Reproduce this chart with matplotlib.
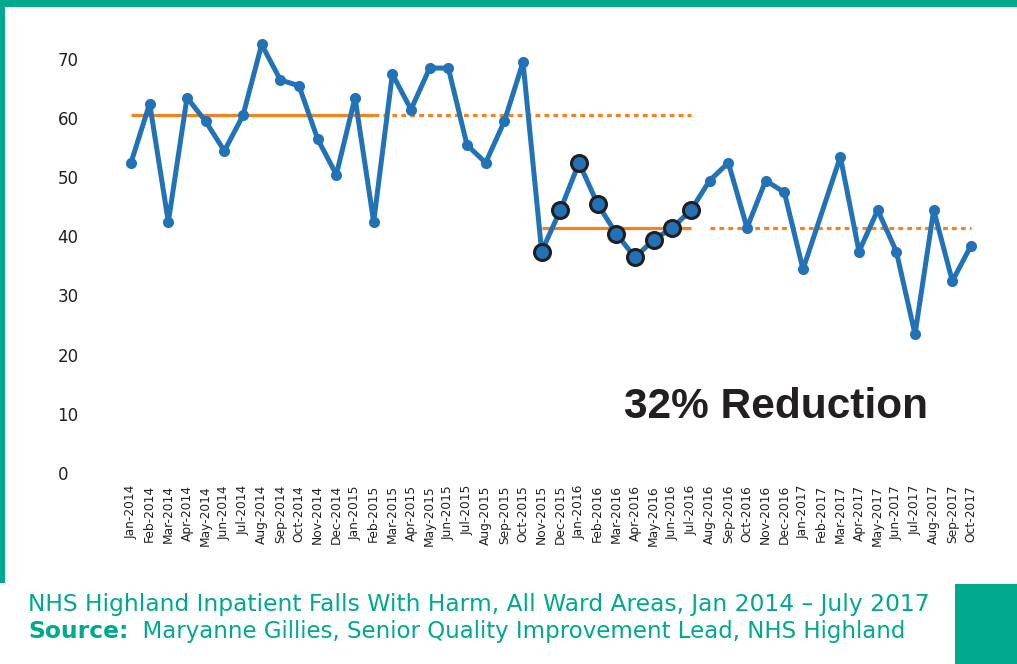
import matplotlib
matplotlib.use("Agg")
import matplotlib.pyplot as plt
from matplotlib.patches import Rectangle
from matplotlib.transforms import ScaledTranslation

# ---------------- data ----------------
months = [
    "Jan-2014", "Feb-2014", "Mar-2014", "Apr-2014", "May-2014", "Jun-2014",
    "Jul-2014", "Aug-2014", "Sep-2014", "Oct-2014", "Nov-2014", "Dec-2014",
    "Jan-2015", "Feb-2015", "Mar-2015", "Apr-2015", "May-2015", "Jun-2015",
    "Jul-2015", "Aug-2015", "Sep-2015", "Oct-2015", "Nov-2015", "Dec-2015",
    "Jan-2016", "Feb-2016", "Mar-2016", "Apr-2016", "May-2016", "Jun-2016",
    "Jul-2016", "Aug-2016", "Sep-2016", "Oct-2016", "Nov-2016", "Dec-2016",
    "Jan-2017", "Feb-2017", "Mar-2017", "Apr-2017", "May-2017", "Jun-2017",
    "Jul-2017", "Aug-2017", "Sep-2017", "Oct-2017",
]
falls = [
    52, 62, 42, 63, 59, 54, 60, 72, 66, 65, 56, 50,
    63, 42, 67, 61, 68, 68, 55, 52, 59, 69, 37, 44,
    52, 45, 40, 36, 39, 41, 44, 49, 52, 41, 49, 47,
    34, None, 53, 37, 44, 37, 23, 44, 32, 38,
]
highlight_months = ["Nov-2015", "Dec-2015", "Jan-2016", "Feb-2016", "Mar-2016",
                    "Apr-2016", "May-2016", "Jun-2016", "Jul-2016"]

baseline_1 = 60
baseline_1_solid = ("Jan-2014", "Feb-2015")
baseline_1_ext = ("Feb-2015", "Jul-2016")
baseline_2 = 41
baseline_2_solid = ("Nov-2015", "Jul-2016")
baseline_2_ext = ("Aug-2016", "Oct-2017")

y_ticks = [0, 10, 20, 30, 40, 50, 60, 70]
annotation = "32% Reduction"
caption_1 = "NHS Highland Inpatient Falls With Harm, All Ward Areas, Jan 2014 \u2013 July 2017"
caption_2_bold = "Source:"
caption_2 = "  Maryanne Gillies, Senior Quality Improvement Lead, NHS Highland"

# ---------------- style ----------------
BLUE = "#2272b8"
ORANGE = "#f5821f"
TEAL = "#00a98d"
TXT = "#231f20"

W, H = 1017, 664
fig = plt.figure(figsize=(W / 100, H / 100), dpi=100)
fig.patch.set_facecolor("white")

# frame decorations
fig.add_artist(Rectangle((0, 1 - 7 / H), 1, 7 / H, transform=fig.transFigure,
                         color=TEAL, lw=0, zorder=0))
fig.add_artist(Rectangle((0, 1 - 583 / H), 5 / W, 583 / H, transform=fig.transFigure,
                         color=TEAL, lw=0, zorder=0))
fig.add_artist(Rectangle((955 / W, 0), 1 - 955 / W, 80 / H, transform=fig.transFigure,
                         color=TEAL, lw=0, zorder=0))

# axes placed by pixels
x_left_px = 131 - 18.667
x_w_px = 47 * 18.667
y_bot_px = 470.5
px_per_unit = 5.918
ax = fig.add_axes([x_left_px / W, (H - y_bot_px) / H, x_w_px / W, 75 * px_per_unit / H])
ax.set_xlim(-1, 46)
ax.set_ylim(0, 75)
for s in ax.spines.values():
    s.set_visible(False)
ax.set_facecolor("none")

idx = {m: i for i, m in enumerate(months)}
xs = [i for i, v in enumerate(falls) if v is not None]
ys = [v for v in falls if v is not None]


def seg(rng):
    return [idx[rng[0]], idx[rng[1]]]


# baselines
ax.plot(seg(baseline_1_solid), [baseline_1] * 2, color=ORANGE, lw=2.3,
        solid_capstyle="butt", zorder=2)
ax.plot(seg(baseline_1_ext), [baseline_1] * 2, color=ORANGE, lw=2.3,
        linestyle=(0, (1.5, 1.3)), dash_capstyle="butt", zorder=2)
ax.plot(seg(baseline_2_solid), [baseline_2] * 2, color=ORANGE, lw=2.3,
        solid_capstyle="butt", zorder=2)
ax.plot(seg(baseline_2_ext), [baseline_2] * 2, color=ORANGE, lw=2.3,
        linestyle=(0, (1.5, 1.3)), dash_capstyle="butt", zorder=2)

# main series
ax.plot(xs, ys, color=BLUE, lw=3.6, marker="o", markersize=8,
        markeredgewidth=0, zorder=3, solid_joinstyle="round")
hx = [idx[m] for m in highlight_months]
hy = [falls[i] for i in hx]
ax.plot(hx, hy, linestyle="none", marker="o", markersize=11.5,
        markerfacecolor=BLUE, markeredgecolor=TXT, markeredgewidth=2.2, zorder=4)

# ticks
ax.set_yticks(y_ticks)
ax.set_yticklabels([str(t) for t in y_ticks], fontsize=12, color=TXT,
                   family="DejaVu Sans")
ax.tick_params(axis="y", length=0, pad=39.5)
for lab in ax.get_yticklabels():
    lab.set_horizontalalignment("left")
    lab.set_transform(lab.get_transform() + ScaledTranslation(0, -2.5 / 100, fig.dpi_scale_trans))

ax.set_xticks(range(len(months)))
ax.set_xticklabels(months, rotation=90, fontsize=8.8, color=TXT, family="DejaVu Sans")
ax.tick_params(axis="x", length=0, pad=10.5)

# annotation
fig.text(624 / W, 1 - 418 / H, annotation, fontsize=30.5, fontweight="bold",
         family=["Liberation Sans", "DejaVu Sans"], color=TXT, va="baseline", ha="left")

# caption
fig.text(28 / W, 1 - 611 / H, caption_1, fontsize=16.8, color=TEAL,
         family="DejaVu Sans", va="baseline", ha="left")
t2 = fig.text(28 / W, 1 - 643 / H, caption_2_bold, fontsize=16.8, color=TEAL,
              fontweight="bold", family="DejaVu Sans", va="bottom", ha="left")
fig.add_artist(plt.Annotation(caption_2, xy=(1, 0), xycoords=t2,
                              va="bottom", ha="left", fontsize=16.5,
                              color=TEAL, family="DejaVu Sans"))

fig.savefig("out.png", dpi=100, facecolor="white")
